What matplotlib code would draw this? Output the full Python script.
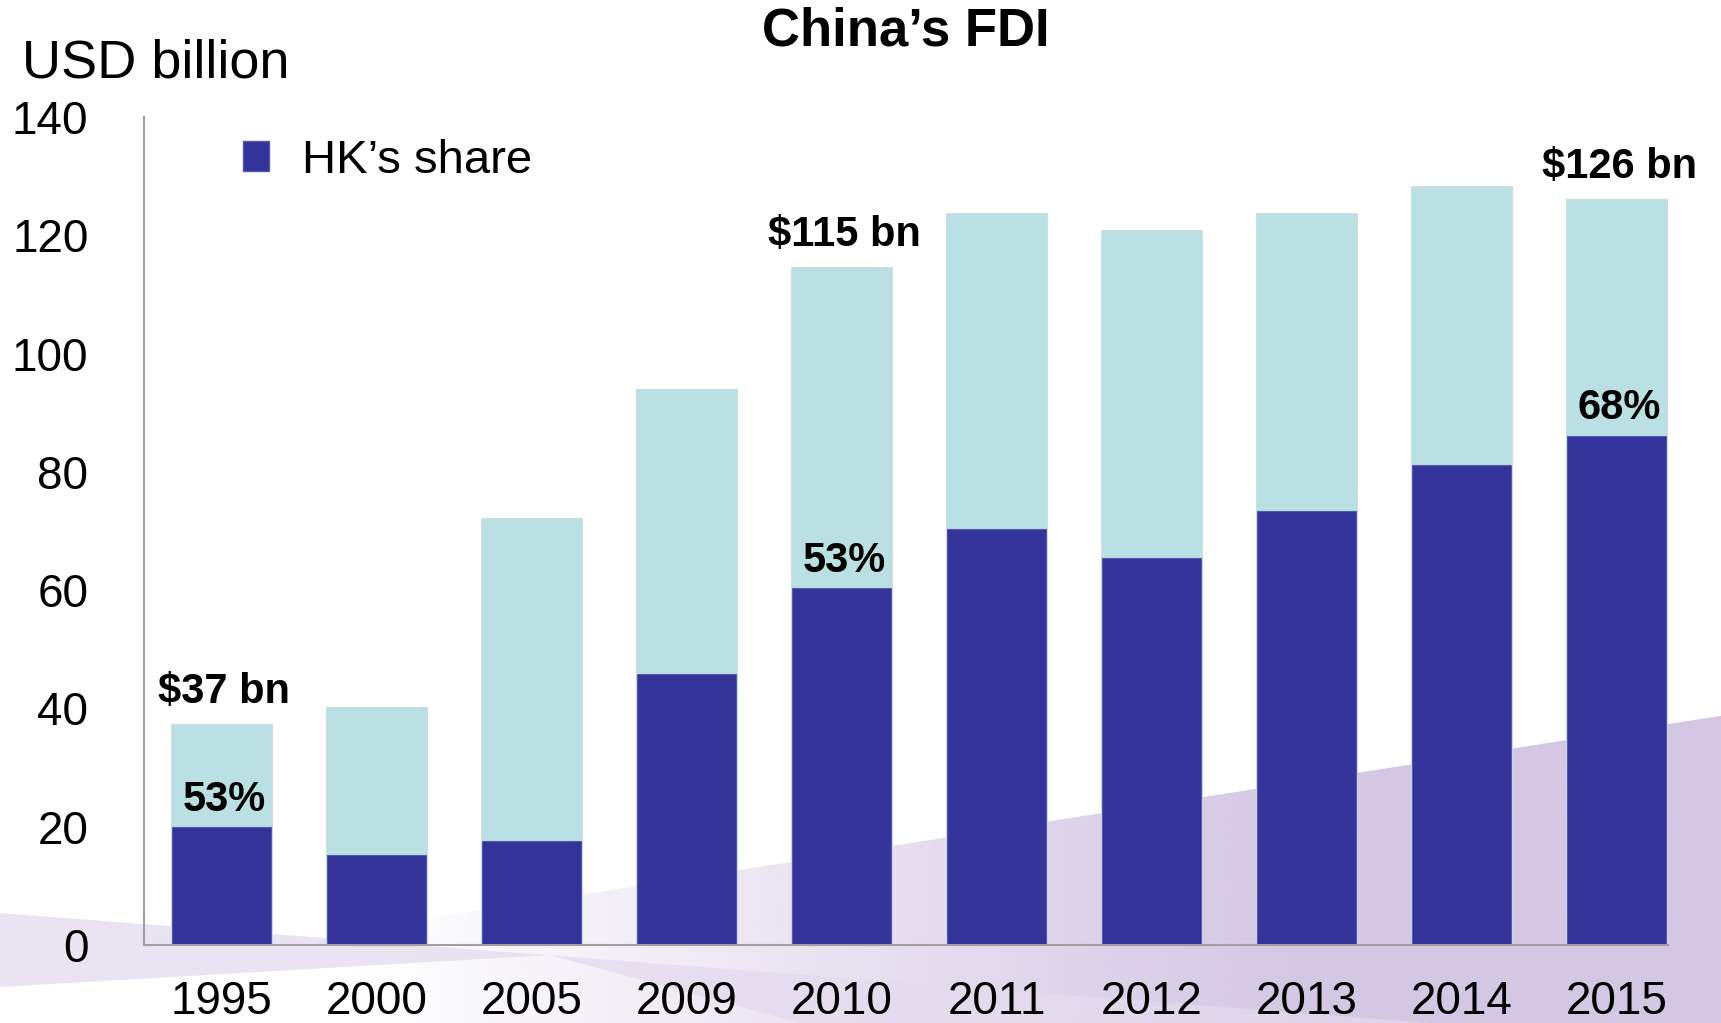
import numpy as np
import matplotlib.pyplot as plt
from matplotlib.patches import Patch, Polygon

# Data
years = ['1995', '2000', '2005', '2009', '2010', '2011', '2012', '2013', '2014', '2015']
total_fdi = [37.3, 40.3, 72.2, 94.0, 114.7, 123.8, 120.9, 123.8, 128.3, 126.1]
hk_share = [19.9, 15.2, 17.6, 45.9, 60.3, 70.4, 65.4, 73.3, 81.1, 86.1]
total_labels = {0: '$37 bn', 4: '$115 bn', 9: '$126 bn'}
share_labels = {0: '53%', 4: '53%', 9: '68%'}
yticks = [0, 20, 40, 60, 80, 100, 120, 140]

plt.rcParams['font.family'] = ['Liberation Sans', 'DejaVu Sans']

W, H = 1721, 1023
fig = plt.figure(figsize=(W / 100, H / 100), dpi=100)

# Decorative lavender background at the bottom (pixel coords, y down)
bg = fig.add_axes([0, 0, 1, 1], zorder=0)
bg.set_xlim(0, W)
bg.set_ylim(H, 0)
bg.axis('off')

wedge = Polygon([(0, 913), (1430, H), (800, H), (550, 955), (0, 987)], closed=True,
                facecolor='#e4dbee', edgecolor='none', alpha=0.75)
bg.add_patch(wedge)

band = Polygon([(0, 986), (W, 986 - 0.157 * W), (W, H), (0, H)], closed=True,
               facecolor='none', edgecolor='none')
bg.add_patch(band)
grad = np.zeros((10, W, 4))
grad[..., 0] = 0xd4 / 255
grad[..., 1] = 0xc7 / 255
grad[..., 2] = 0xe4 / 255
grad[..., 3] = np.clip((np.arange(W) - 350) / 950, 0, 1)[None, :]
im = bg.imshow(grad, extent=(0, W, H, 0), aspect='auto', interpolation='bilinear')
im.set_clip_path(band)

# Main chart
ax = fig.add_axes([144 / W, 78 / H, (1668 - 144) / W, (945 - 117) / H], zorder=1)
ax.patch.set_alpha(0)

x = np.arange(len(years))
ax.bar(x, total_fdi, width=0.65, color='#bbe0e3', edgecolor='#d0dcdf', linewidth=0.8)
ax.bar(x, hk_share, width=0.64, color='#333399', edgecolor='#5558b0', linewidth=0.8)

for i, txt in total_labels.items():
    ax.annotate(txt, (x[i], total_fdi[i]), xytext=(2, 23), textcoords='offset points',
                ha='center', va='center', fontsize=30, fontweight='bold')
for i, txt in share_labels.items():
    ax.annotate(txt, (x[i], hk_share[i]), xytext=(2, 20), textcoords='offset points',
                ha='center', va='center', fontsize=30, fontweight='bold')

ax.set_xlim(-0.5, 9.33)
ax.set_ylim(0, 140)
ax.set_yticks(yticks)
ax.set_xticks(x)
ax.set_xticklabels(years)
ax.tick_params(axis='y', length=0, pad=40, labelsize=33)
ax.tick_params(axis='x', length=0, pad=25.5, labelsize=33)

for side in ['top', 'right']:
    ax.spines[side].set_visible(False)
for side in ['left', 'bottom']:
    ax.spines[side].set_color('#a0a0a0')
    ax.spines[side].set_linewidth(1.5)

ax.legend(handles=[Patch(facecolor='#333399', edgecolor='#5558b0', label='HK’s share')],
          loc='center left', bbox_to_anchor=(243 / W, 1 - 161 / H),
          bbox_transform=fig.transFigure, frameon=False, fontsize=34,
          handlelength=0.55, handleheight=0.6, handletextpad=0.7,
          borderpad=0, borderaxespad=0)

fig.text(906 / W, 1 - 31 / H, 'China’s FDI', ha='center', va='center',
         fontsize=38, fontweight='bold')
fig.text(22 / W, 1 - 63 / H, 'USD billion', ha='left', va='center', fontsize=39)

fig.savefig('out.png', dpi=100)
